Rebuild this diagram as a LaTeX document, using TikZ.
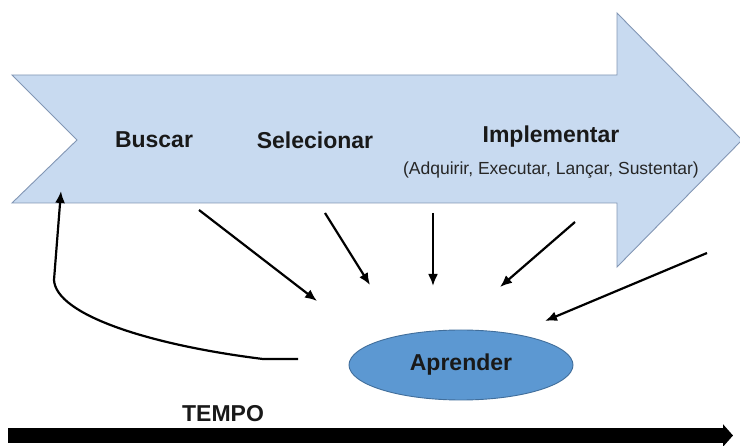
\documentclass[tikz,border=0pt]{standalone}
\usepackage{fontspec}
\setmainfont{Liberation Sans}
\usepackage{xcolor}
\usetikzlibrary{arrows.meta,shapes.geometric}

\definecolor{arrowfill}{RGB}{200,218,240}
\definecolor{arrowline}{RGB}{130,150,180}
\definecolor{learnfill}{RGB}{92,152,210}
\definecolor{learnline}{RGB}{65,110,155}

\tikzset{
  phase/.style={font=\bfseries\fontsize{23}{26}\selectfont, text=black!90},
  feed/.style={-{Latex[length=12pt,width=10pt]}, line width=2.2pt},
}

\begin{document}
\begin{tikzpicture}[x=1pt,y=-1pt]
  \useasboundingbox (0,0) rectangle (740,446);

  % big process arrow
  \draw[fill=arrowfill, draw=arrowline, line width=0.9pt]
    (12,75) -- (617,75) -- (617,13) -- (742,140) -- (617,267)
    -- (617,203) -- (12,203) -- (77,140) -- cycle;

  \node[phase] (buscar) at (154,140) {Buscar};
  \node[phase] (selecionar) at (315,140) {Selecionar};
  \node[phase] (implementar) at (551,137) {Implementar};
  \node[font=\fontsize{17.5}{20}\selectfont, text=black!85] (acoes) at (551,170)
    {(Adquirir, Executar, Lançar, Sustentar)};

  % learning
  \node[ellipse, minimum width=224pt, minimum height=70pt, fill=learnfill,
    draw=learnline, line width=0.9pt, phase] (aprender) at (461,365) {Aprender};

  \coordinate (s1) at (199,210);
  \coordinate (e1) at (317,301);
  \coordinate (s2) at (325,213);
  \coordinate (e2) at (370,285);
  \coordinate (s3) at (433,213);
  \coordinate (e3) at (433,286);
  \coordinate (s4) at (575,222);
  \coordinate (e4) at (500,287);
  \coordinate (s5) at (707,253);
  \coordinate (e5) at (545,321);
  \coordinate (back) at (298,359);
  \coordinate (busca) at (61,191);

  \draw[feed] (s1) -- (e1);
  \draw[feed] (s2) -- (e2);
  \draw[feed] (s3) -- (e3);
  \draw[feed] (s4) -- (e4);
  \draw[feed] (s5) -- (e5);
  \draw[feed] (back) -- (263,359) .. controls (150,345) and (56,315) .. (54,280)
    -- (busca);

  % time axis
  \node[phase] (tempo) at (223,414) {TEMPO};
  \coordinate (t0) at (8,435.5);
  \coordinate (t1) at (733,435.5);
  \draw[line width=15pt, -{Triangle[length=10pt,width=22pt]}] (t0) -- (t1);
\end{tikzpicture}
\end{document}
